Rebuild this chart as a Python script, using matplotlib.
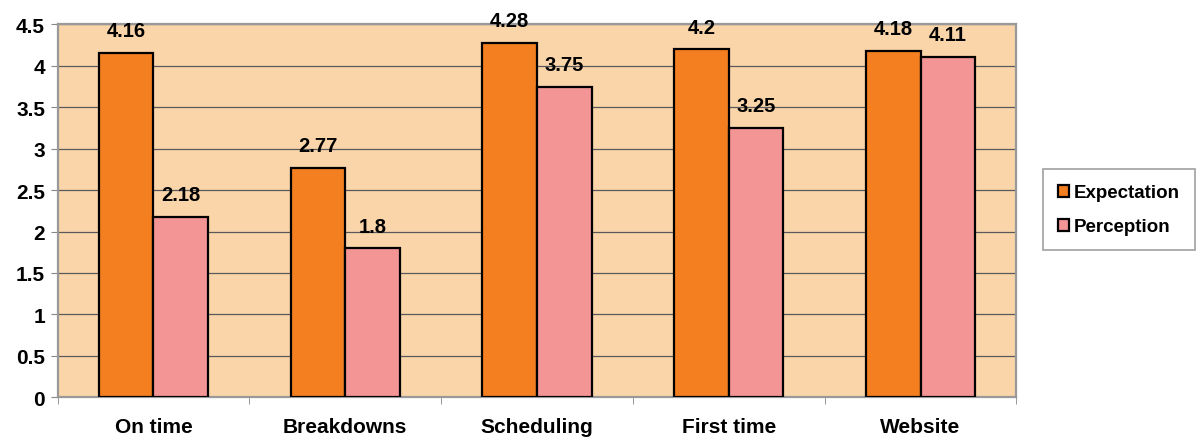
import numpy as np
import matplotlib.pyplot as plt

categories = ['On time', 'Breakdowns', 'Scheduling', 'First time', 'Website']
expectation = [4.16, 2.77, 4.28, 4.2, 4.18]
perception = [2.18, 1.8, 3.75, 3.25, 4.11]
yticks = [0, 0.5, 1, 1.5, 2, 2.5, 3, 3.5, 4, 4.5]

plt.rcParams['font.family'] = ['Liberation Sans', 'DejaVu Sans']
plt.rcParams['font.weight'] = 'bold'

fig = plt.figure(figsize=(12, 4.39), dpi=100)
ax = fig.add_axes([0.048, 0.093, 0.799, 0.849])
ax.set_facecolor('#FAD5A9')

x = np.arange(len(categories))
w = 0.285
b1 = ax.bar(x - w / 2, expectation, w, color='#F47F20', edgecolor='black', linewidth=1.6,
            label='Expectation', zorder=3)
b2 = ax.bar(x + w / 2, perception, w, color='#F49595', edgecolor='black', linewidth=1.6,
            label='Perception', zorder=3)

for bars, vals in [(b1, expectation), (b2, perception)]:
    for r, v in zip(bars, vals):
        ax.annotate(f'{v:g}', (r.get_x() + r.get_width() / 2, v), xytext=(0, 9),
                    textcoords='offset points', ha='center', va='bottom',
                    fontsize=14.5, fontweight='bold')

ax.set_xlim(-0.5, len(categories) - 0.5)
ax.set_ylim(0, 4.5)
ax.set_yticks(yticks)
ax.set_yticklabels([f'{t:g}' for t in yticks], fontsize=15, fontweight='bold')
ax.yaxis.grid(True, color='#5a5a5a', linewidth=0.9, zorder=0)
ax.set_axisbelow(True)

ax.set_xticks(x)
ax.set_xticklabels(categories, fontsize=15, fontweight='bold')
ax.tick_params(axis='x', length=0, pad=14)
ax.set_xticks(np.arange(-0.5, len(categories)), minor=True)
ax.tick_params(axis='x', which='minor', length=5, color='#888888')
ax.tick_params(axis='y', length=5, color='#888888', pad=4)

for s in ax.spines.values():
    s.set_color('#999999')
    s.set_linewidth(1.6)

leg = fig.legend(loc='upper left', bbox_to_anchor=(0.869, 0.612), frameon=True,
                 fancybox=False, edgecolor='#888888', fontsize=13.5,
                 handlelength=0.6, handleheight=0.6, handletextpad=0.25,
                 labelspacing=0.9, borderpad=0.8, borderaxespad=0)
leg.get_frame().set_linewidth(1.2)

fig.savefig('out.png', dpi=100)
